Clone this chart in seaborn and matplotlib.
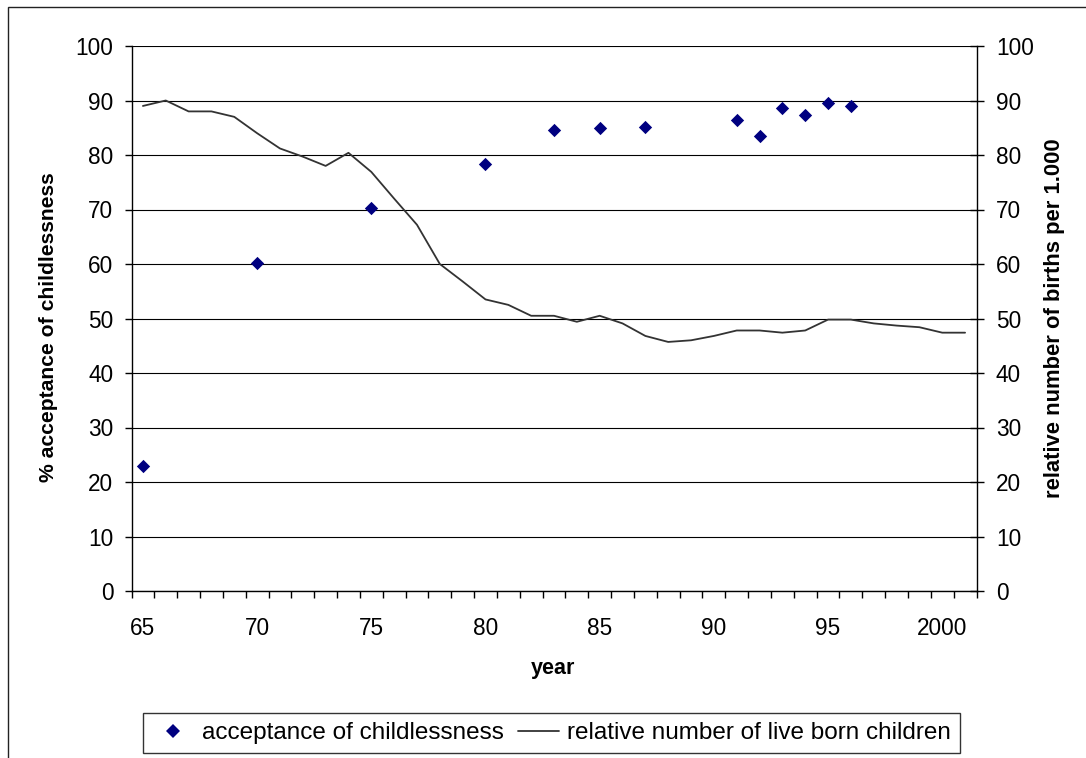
import matplotlib
matplotlib.use("Agg")
import matplotlib.pyplot as plt
import matplotlib.patches as mpatches
from matplotlib.lines import Line2D
import seaborn as sns
import pandas as pd

# ---- data ----
line_years = [1965, 1966, 1967, 1968, 1969, 1970, 1971, 1972, 1973, 1974,
              1975, 1976, 1977, 1978, 1979, 1980, 1981, 1982, 1983, 1984,
              1985, 1986, 1987, 1988, 1989, 1990, 1991, 1992, 1993, 1994,
              1995, 1996, 1997, 1998, 1999, 2000, 2001]
births_rel = [89.0, 90.0, 88.0, 88.0, 87.0, 84.0, 81.2, 79.7, 78.0, 80.4,
              76.9, 72.0, 67.2, 60.0, 56.8, 53.5, 52.5, 50.5, 50.5, 49.4,
              50.5, 49.1, 46.8, 45.7, 46.0, 46.8, 47.8, 47.8, 47.4, 47.8,
              49.8, 49.8, 49.1, 48.7, 48.4, 47.4, 47.4]

acc_years = [1965, 1970, 1975, 1980, 1983, 1985, 1987, 1991, 1992, 1993, 1994, 1995, 1996]
acceptance = [22.9, 60.1, 70.2, 78.3, 84.5, 84.9, 85.2, 86.5, 83.5, 88.6, 87.3, 89.6, 88.9]

major_years = [1965, 1970, 1975, 1980, 1985, 1990, 1995, 2000]
major_labels = ["65", "70", "75", "80", "85", "90", "95", "2000"]
y_ticks = [0, 10, 20, 30, 40, 50, 60, 70, 80, 90, 100]

label_scatter = "acceptance of childlessness"
label_line = "relative number of live born children"

df_line = pd.DataFrame({"year": line_years, "value": births_rel})
df_acc = pd.DataFrame({"year": acc_years, "value": acceptance})

sns.set_theme(style="white")
plt.rcParams["font.family"] = ["Liberation Sans", "DejaVu Sans"]

W, H = 1086, 758
fig = plt.figure(figsize=(W / 100, H / 100), dpi=100)
L, R, T, B = 131.5, 976.5, 46, 591
ax = fig.add_axes([L / W, 1 - B / H, (R - L) / W, (B - T) / H])
ax2 = ax.twinx()

# gridlines
ax.set_ylim(0, 100)
ax2.set_ylim(0, 100)
ax.set_yticks(y_ticks)
ax2.set_yticks(y_ticks)
ax.grid(axis="y", color="black", linewidth=0.8)
ax.grid(axis="x", visible=False)
ax2.grid(False)
ax.set_axisbelow(True)

sns.lineplot(data=df_line, x="year", y="value", ax=ax2, color="#333333",
             linewidth=1.3, legend=False)
sns.scatterplot(data=df_acc, x="year", y="value", ax=ax2, marker="D",
                color="#000080", s=46, linewidth=0, legend=False, zorder=5)

for a in (ax, ax2):
    a.set_xlim(1964.5, 2001.5)
    for sp in a.spines.values():
        sp.set_visible(False)

ax.spines["left"].set_visible(True)
ax.spines["bottom"].set_visible(True)
ax2.spines["right"].set_visible(True)
for sp in (ax.spines["left"], ax.spines["bottom"], ax2.spines["right"]):
    sp.set_color("black")
    sp.set_linewidth(1.0)

ax.set_xticks(major_years)
ax.set_xticklabels(major_labels)
ax.set_xticks([y - 0.5 for y in line_years] + [2001.5], minor=True)
ax.tick_params(axis="x", which="major", length=0, pad=19, labelsize=16.3, colors="black")
ax.tick_params(axis="x", which="minor", length=5, width=1, direction="out",
               bottom=True, color="black")
ax.tick_params(axis="y", which="major", left=True, length=5, width=1, direction="out",
               pad=8, labelsize=16.3, colors="black")
ax2.tick_params(axis="y", which="major", right=True, length=10, width=1, direction="inout",
                pad=9, labelsize=16.3, colors="black")

ax.set_xlabel("year", fontsize=15.5, fontweight="bold", color="black")
ax.set_ylabel("% acceptance of childlessness", fontsize=15.2, fontweight="bold", color="black")
ax2.set_ylabel("relative number of births per 1.000", fontsize=15.8, fontweight="bold",
               color="black", rotation=90)
ax.xaxis.set_label_coords((553 - L) / (R - L), (B - 658) / (B - T))
ax.yaxis.set_label_coords((58 - L) / (R - L), (B - 327) / (B - T))
ax2.yaxis.set_label_coords((1044 - L) / (R - L), 0.5)

handles = [
    Line2D([], [], marker="D", color="#000080", linestyle="none", markersize=6.8,
           markeredgewidth=0),
    Line2D([], [], color="#333333", linewidth=1.3),
]
leg = fig.legend(handles, [label_scatter, label_line], loc="center",
                 bbox_to_anchor=((142.7 + 961) / 2 / W, 1 - 733 / H), ncol=2,
                 fontsize=17.5, frameon=True, fancybox=False, shadow=False,
                 edgecolor="black", borderpad=0.38, handlelength=1.69,
                 handletextpad=0.35, columnspacing=0.55, borderaxespad=0)
leg.get_frame().set_linewidth(1.0)
for t in leg.get_texts():
    t.set_color("black")

# chart-area border (extends past right/bottom)
fig.patches.append(mpatches.Rectangle((8 / W, -0.1), 1.2, (1 - 7 / H) + 0.1,
                                      transform=fig.transFigure, fill=False,
                                      edgecolor="#222222", linewidth=1.0))

fig.savefig("out.png", dpi=100)
